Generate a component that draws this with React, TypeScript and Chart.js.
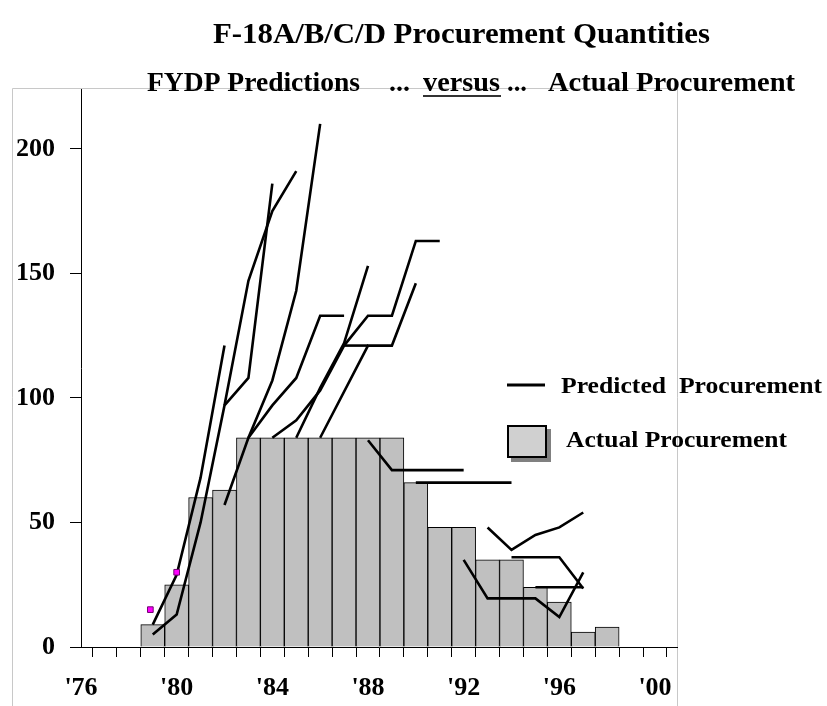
import React, { useEffect, useRef } from 'react';
import { Chart, registerables } from 'chart.js';

Chart.register(...registerables);

// ---------- DATA ----------
const barYears = [1979, 1980, 1981, 1982, 1983, 1984, 1985, 1986, 1987, 1988, 1989, 1990, 1991, 1992, 1993, 1994, 1995, 1996, 1997, 1998];
const actualQty = [9, 25, 60, 63, 84, 84, 84, 84, 84, 84, 84, 66, 48, 48, 35, 35, 24, 18, 6, 8];

const yTickValues = [0, 50, 100, 150, 200];
const xTickYears = [1976, 1977, 1978, 1979, 1980, 1981, 1982, 1983, 1984, 1985, 1986, 1987, 1988, 1989, 1990, 1991, 1992, 1993, 1994, 1995, 1996, 1997, 1998, 1999, 2000];

// FYDP predicted procurement lines: [fiscal year, quantity]
const predA: [number, number][] = [[1979, 9], [1980, 29], [1981, 68], [1982, 121]];
const predB: [number, number][] = [[1979, 5], [1980, 13], [1981, 50], [1982, 97], [1983, 108], [1984, 186]];
const predC: [number, number][] = [[1982, 97], [1983, 147], [1984, 175], [1985, 191]];
const predD: [number, number][] = [[1982, 57], [1983, 84], [1984, 107], [1985, 143], [1986, 210]];
const predE: [number, number][] = [[1983, 84], [1984, 97], [1985, 108], [1986, 133], [1987, 133]];
const predF: [number, number][] = [[1984, 84], [1985, 91], [1986, 103], [1987, 121], [1988, 133], [1989, 133], [1990, 163], [1991, 163]];
const predG: [number, number][] = [[1985, 84], [1986, 104], [1987, 122], [1988, 153]];
const predH: [number, number][] = [[1986, 84], [1988, 121], [1989, 121], [1990, 146]];
const predI: [number, number][] = [[1987, 121], [1988, 121]];
const predJ: [number, number][] = [[1988, 83], [1989, 71], [1990, 71], [1991, 71], [1992, 71]];
const predK: [number, number][] = [[1990, 66], [1991, 66], [1992, 66], [1993, 66], [1994, 66]];
const predL: [number, number][] = [[1993, 48], [1994, 39], [1995, 45], [1996, 48], [1997, 54]];
const predM: [number, number][] = [[1992, 35], [1993, 19.5], [1994, 19.5], [1995, 19.5], [1996, 12], [1997, 30]];
const predN: [number, number][] = [[1994, 36], [1995, 36], [1996, 36], [1997, 23.5]];
const predO: [number, number][] = [[1995, 24], [1996, 24], [1997, 24]];

const predictedLines = [predA, predB, predC, predD, predE, predF, predG, predH, predI, predJ, predK, predL, predM, predN, predO];

const magentaMarks: [number, number][] = [[1978.9, 15], [1980, 30]];

const titleText = 'F-18A/B/C/D Procurement Quantities';
const subtitleParts = ['FYDP Predictions', '...', 'versus', '...', 'Actual Procurement'];
const legendPredicted = 'Predicted  Procurement';
const legendActual = 'Actual Procurement';

const SERIF = '"Liberation Serif", "Times New Roman", serif';

function fitText(ctx: CanvasRenderingContext2D, text: string, x0: number, x1: number, baseline: number, size: number) {
  ctx.save();
  ctx.font = `bold ${size}px ${SERIF}`;
  ctx.textAlign = 'left';
  ctx.textBaseline = 'alphabetic';
  const w = ctx.measureText(text).width;
  ctx.translate(x0, baseline);
  ctx.scale((x1 - x0) / w, 1);
  ctx.fillStyle = '#000';
  ctx.fillText(text, 0, 0);
  ctx.restore();
}

const decorPlugin = {
  id: 'decor',
  beforeDraw(chart: any) {
    const c: CanvasRenderingContext2D = chart.ctx;
    c.save();
    c.fillStyle = '#fff';
    c.fillRect(0, 0, chart.width, chart.height);
    c.strokeStyle = '#C8C8C8';
    c.lineWidth = 1;
    c.beginPath();
    c.moveTo(12.5, chart.height);
    c.lineTo(12.5, 88.5);
    c.lineTo(677.5, 88.5);
    c.lineTo(677.5, chart.height);
    c.stroke();
    c.restore();
  },
  afterDraw(chart: any) {
    const c: CanvasRenderingContext2D = chart.ctx;
    // title
    fitText(c, titleText, 213, 710, 43, 30);
    // subtitle
    const spans: [number, number][] = [[147, 360], [389, 410], [423, 500], [507, 527], [548, 795]];
    subtitleParts.forEach((t, i) => fitText(c, t, spans[i][0], spans[i][1], 91, 27));
    c.save();
    c.fillStyle = '#333';
    c.fillRect(423, 95, 78, 2);
    c.restore();
    // legend
    c.save();
    c.strokeStyle = '#000';
    c.lineWidth = 3;
    c.beginPath();
    c.moveTo(507, 385);
    c.lineTo(545, 385);
    c.stroke();
    c.fillStyle = '#808080';
    c.fillRect(511, 429, 40, 33);
    c.fillStyle = '#D0D0D0';
    c.fillRect(507, 425, 40, 33);
    c.strokeStyle = '#000';
    c.lineWidth = 2;
    c.strokeRect(508, 426, 38, 31);
    c.restore();
    fitText(c, legendPredicted, 561, 822, 393, 23);
    fitText(c, legendActual, 566, 787, 447, 23);
  },
};

export default function App() {
  const ref = useRef<HTMLCanvasElement>(null);
  useEffect(() => {
    const canvas = ref.current;
    if (!canvas) return;
    const tickFont = { family: SERIF, size: 26, weight: 'bold' as const };
    const datasets: any[] = [
      {
        type: 'bar',
        label: 'Actual Procurement',
        data: barYears.map((x, i) => ({ x, y: actualQty[i] })),
        backgroundColor: '#C0C0C0',
        borderColor: '#000',
        borderWidth: 1,
        barPercentage: 1,
        categoryPercentage: 1,
        order: 10,
      },
      ...predictedLines.map((p, i) => ({
        type: 'line',
        label: `Predicted ${i + 1}`,
        data: p.map(([x, y]) => ({ x, y })),
        borderColor: '#000',
        borderWidth: 2.6,
        pointRadius: 0,
        fill: false,
        tension: 0,
        order: 1,
      })),
      {
        type: 'scatter',
        label: 'marks',
        data: magentaMarks.map(([x, y]) => ({ x, y })),
        pointStyle: 'rect',
        pointRadius: 4,
        backgroundColor: '#FF00FF',
        borderColor: '#700070',
        borderWidth: 1,
        order: 0,
      },
    ];
    const chart = new Chart(canvas, {
      type: 'bar',
      data: { datasets },
      options: {
        responsive: false,
        animation: false,
        layout: { padding: { top: 89, right: 150, left: 0, bottom: 0 } },
        plugins: {
          legend: { display: false },
          tooltip: { enabled: false },
          title: { display: false },
        },
        scales: {
          x: {
            type: 'linear',
            min: 1976,
            max: 2000.92,
            offset: false,
            afterBuildTicks: (s: any) => {
              s.ticks = xTickYears.map((v) => ({ value: v }));
            },
            ticks: {
              autoSkip: false,
              maxRotation: 0,
              color: '#000',
              font: tickFont,
              padding: 16,
              callback: (v: any) => (Number(v) % 4 === 0 ? "'" + String(v).slice(2) : ''),
            },
            grid: { display: true, drawOnChartArea: false, drawTicks: true, tickLength: 10, color: '#000' },
            border: { display: true, color: '#000', width: 1 },
            afterFit: (s: any) => {
              s.height = 59;
            },
          },
          y: {
            min: 0,
            max: 224,
            afterBuildTicks: (s: any) => {
              s.ticks = yTickValues.map((v) => ({ value: v }));
            },
            ticks: { color: '#000', font: tickFont, padding: 15 },
            grid: { display: true, drawOnChartArea: false, drawTicks: true, tickLength: 11, color: '#000' },
            border: { display: true, color: '#000', width: 1 },
            afterFit: (s: any) => {
              s.width = 81;
            },
          },
        },
      } as any,
      plugins: [decorPlugin],
    });
    return () => chart.destroy();
  }, []);
  return (
    <div style={{ position: 'fixed', left: 0, top: 0, width: 827, height: 706, background: '#fff' }}>
      <canvas ref={ref} width={827} height={706} style={{ display: 'block' }} />
    </div>
  );
}
